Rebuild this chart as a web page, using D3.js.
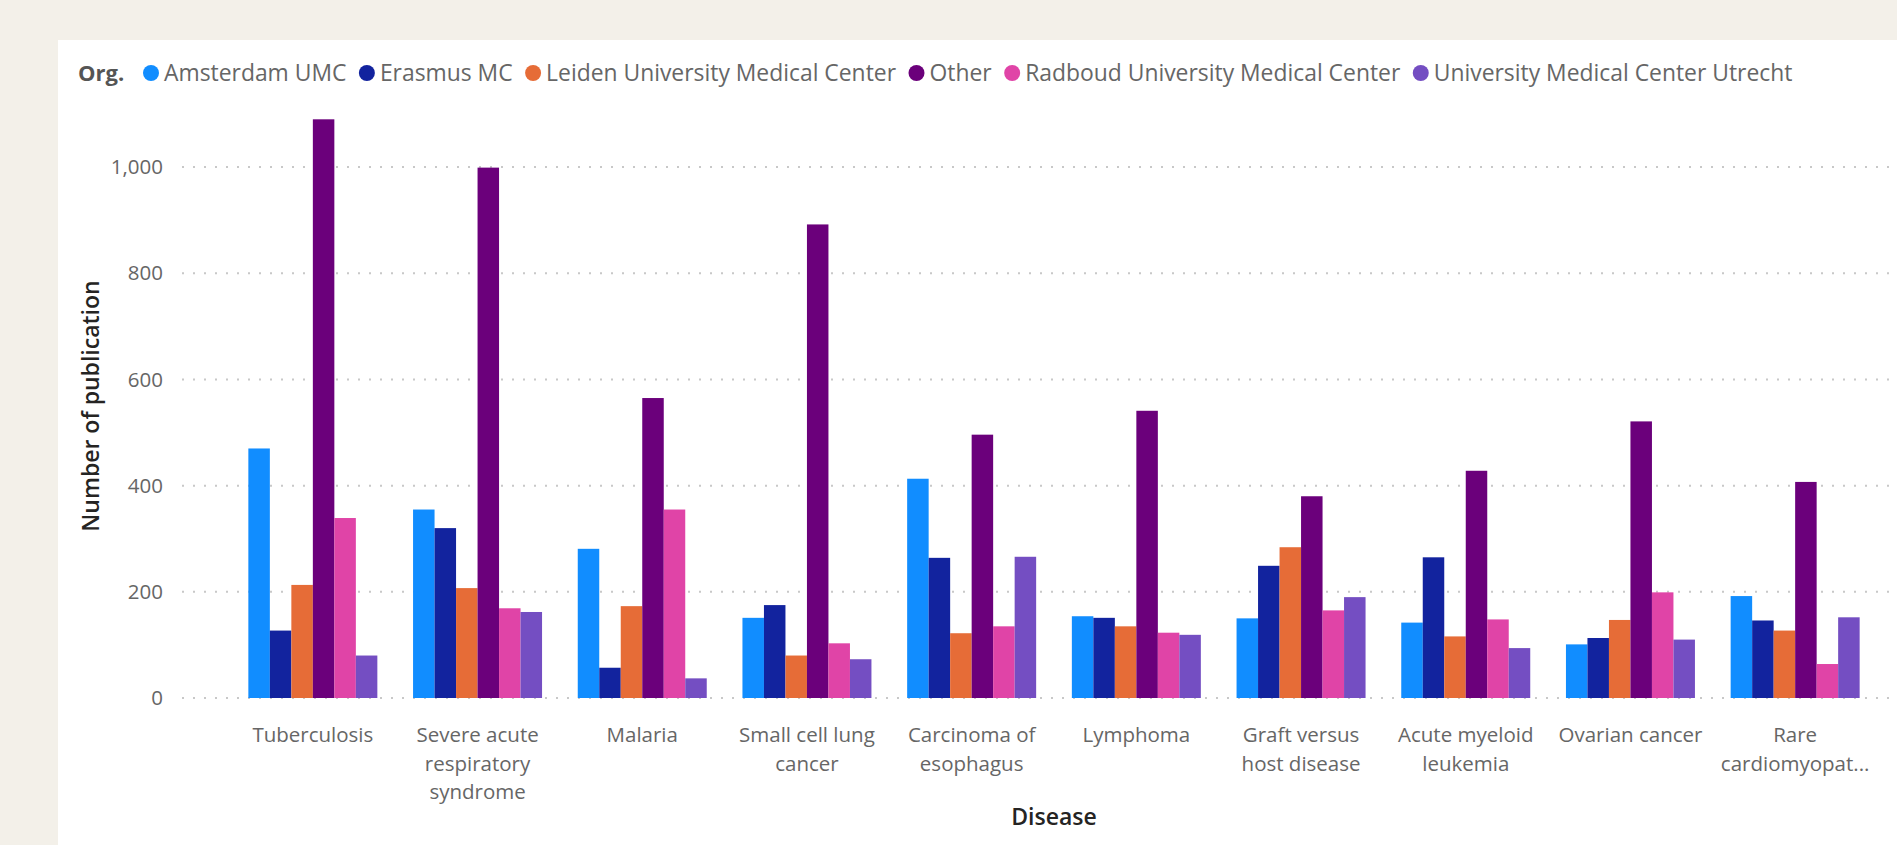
<!DOCTYPE html>
<html>
<head>
<meta charset="utf-8">
<script src="https://cdn.jsdelivr.net/npm/d3@7"></script>
<style>
  html, body { margin: 0; padding: 0; background: #F3F0E9; }
  svg { display: block; }
  text { font-family: "Segoe UI", "Open Sans", "Noto Sans", sans-serif; }
</style>
</head>
<body>
<svg id="chart" width="1897" height="845"></svg>
<script>
// ---------------- data ----------------
const categories = ["Tuberculosis", "Severe acute respiratory syndrome", "Malaria", "Small cell lung cancer",
  "Carcinoma of esophagus", "Lymphoma", "Graft versus host disease", "Acute myeloid leukemia",
  "Ovarian cancer", "Rare cardiomyopathy"];
const categoryLabelLines = [
  ["Tuberculosis"], ["Severe acute", "respiratory", "syndrome"], ["Malaria"], ["Small cell lung", "cancer"],
  ["Carcinoma of", "esophagus"], ["Lymphoma"], ["Graft versus", "host disease"], ["Acute myeloid", "leukemia"],
  ["Ovarian cancer"], ["Rare", "cardiomyopat..."]];
const seriesNames = ["Amsterdam UMC", "Erasmus MC", "Leiden University Medical Center", "Other",
  "Radboud University Medical Center", "University Medical Center Utrecht"];
const amsterdamUMC = [470, 355, 281, 151, 413, 154, 150, 142, 101, 192];
const erasmusMC    = [127, 320,  57, 175, 264, 151, 249, 265, 113, 146];
const leidenUMC    = [213, 207, 173,  80, 122, 135, 284, 116, 147, 127];
const otherOrg     = [1090, 999, 565, 892, 496, 541, 380, 428, 521, 407];
const radboudUMC   = [339, 169, 355, 103, 135, 123, 165, 148, 199,  64];
const utrechtUMC   = [ 80, 162,  37,  73, 266, 119, 190,  94, 110, 152];
const yTickValues  = [0, 200, 400, 600, 800, 1000];
const seriesColors = ["#118DFF", "#12239E", "#E66C37", "#6B007B", "#E044A7", "#744EC2"];
const legendTitle = "Org.";
const xTitle = "Disease";
const yTitle = "Number of publication";

const seriesValues = [amsterdamUMC, erasmusMC, leidenUMC, otherOrg, radboudUMC, utrechtUMC];
const table = categories.map((c, i) => ({
  category: c,
  values: seriesNames.map((s, j) => ({ series: s, value: seriesValues[j][i] }))
}));

// ---------------- layout ----------------
const svg = d3.select("#chart");
svg.append("rect").attr("x", 58).attr("y", 40).attr("width", 1897 - 58).attr("height", 845 - 40).attr("fill", "#FFFFFF");

const gridX0 = 182, gridX1 = 1889;
const x0 = d3.scaleBand().domain(categories).range([230.5, 1877.5]).paddingInner(0.2168).paddingOuter(0.1084);
const x1 = d3.scaleBand().domain(seriesNames).range([0, x0.bandwidth()]).padding(0);
const y = d3.scaleLinear().domain([0, 1100]).range([698, 114]);
const color = d3.scaleOrdinal().domain(seriesNames).range(seriesColors);

// gridlines
svg.append("g").selectAll("line").data(yTickValues).join("line")
  .attr("x1", gridX0).attr("x2", gridX1)
  .attr("y1", d => y(d)).attr("y2", d => y(d))
  .attr("stroke", "#C8C8C8").attr("stroke-width", 2).attr("stroke-dasharray", "2 9");

// y axis labels
const yAxis = d3.axisLeft(y).tickValues(yTickValues).tickSize(0).tickPadding(0).tickFormat(d3.format(","));
const yG = svg.append("g").attr("transform", "translate(163,0)").call(yAxis);
yG.select(".domain").remove();
yG.selectAll("text").attr("font-size", 20.5).attr("fill", "#666666")
  .attr("font-family", "'Segoe UI', 'Open Sans', sans-serif");

// bars
const groups = svg.append("g").selectAll("g").data(table).join("g")
  .attr("transform", d => `translate(${x0(d.category)},0)`);
groups.selectAll("rect").data(d => d.values).join("rect")
  .attr("x", d => x1(d.series))
  .attr("width", x1.bandwidth())
  .attr("y", d => y(d.value))
  .attr("height", d => y(0) - y(d.value))
  .attr("fill", d => color(d.series));

// x category labels
const xAxis = d3.axisBottom(x0).tickSize(0).tickFormat("");
const xG = svg.append("g").attr("transform", "translate(0,698)").call(xAxis);
xG.select(".domain").remove();
xG.selectAll(".tick").each(function(d, i) {
  const t = d3.select(this).append("text")
    .attr("text-anchor", "middle").attr("font-size", 20.5).attr("fill", "#666666")
    .attr("font-family", "'Segoe UI', 'Open Sans', sans-serif");
  categoryLabelLines[i].forEach((line, k) => {
    t.append("tspan").attr("x", 0).attr("y", 44 + k * 28.5).text(line);
  });
});

// axis titles
svg.append("text").attr("x", (x0.range()[0] + x0.range()[1]) / 2).attr("y", 825)
  .attr("text-anchor", "middle").attr("font-size", 23).attr("font-weight", 600).attr("fill", "#252423")
  .text(xTitle);
svg.append("text").attr("transform", "translate(99,406) rotate(-90)")
  .attr("text-anchor", "middle").attr("font-size", 23).attr("font-weight", 600).attr("fill", "#252423")
  .text(yTitle);

// legend
const legendY = 73;
const lg = svg.append("g");
lg.append("text").attr("x", 78).attr("y", legendY).attr("dy", "0.35em")
  .attr("font-size", 22).attr("font-weight", 700).attr("fill", "#555555").text(legendTitle);
const baseFont = 23;
const items = lg.selectAll("g.item").data(seriesNames).join("g").attr("class", "item");
items.append("circle").attr("r", 8).attr("cy", legendY).attr("fill", d => color(d));
items.append("text").attr("y", legendY).attr("dy", "0.36em").attr("font-size", baseFont)
  .attr("font-family", "Lato, 'Open Sans', sans-serif")
  .attr("fill", "#666666").text(d => d);
let total = 0;
items.selectAll("text").each(function() { total += this.getComputedTextLength(); });
const fitFont = Math.min(24, baseFont * 1462 / total);
items.selectAll("text").attr("font-size", fitFont);
let cursor = 151;
items.each(function() {
  const g = d3.select(this);
  g.select("circle").attr("cx", cursor);
  const t = g.select("text").attr("x", cursor + 13);
  cursor = cursor + 13 + t.node().getComputedTextLength() + 20.5;
});
</script>
</body>
</html>
